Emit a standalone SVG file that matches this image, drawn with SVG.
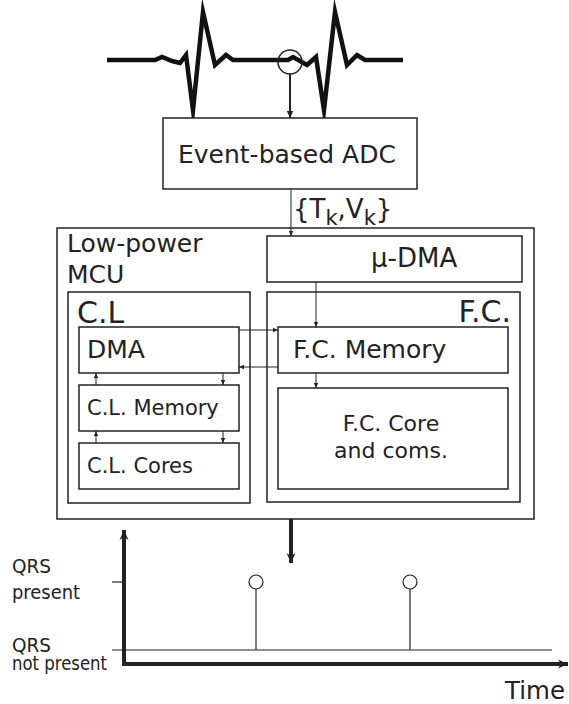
<svg xmlns="http://www.w3.org/2000/svg" width="569" height="704" viewBox="0 0 569 704">
<style>
.box{fill:#fff;stroke:#222;stroke-width:1.5}
.t{font-family:"DejaVu Sans",sans-serif;fill:#222}
.l{font-family:"DejaVu Sans",sans-serif;fill:#222}
.c{fill:none;stroke:#222;stroke-width:1}
</style>
<defs>
<marker id="a" markerUnits="userSpaceOnUse" markerWidth="6" markerHeight="6" refX="5" refY="3" orient="auto"><path d="M0,0.8 L5,3 L0,5.2 Z" fill="#222"/></marker>
<marker id="ab" markerUnits="userSpaceOnUse" markerWidth="12" markerHeight="12" refX="10" refY="6" orient="auto"><path d="M0,1.5 L10,6 L0,10.5 L3,6 Z" fill="#222"/></marker>
<marker id="am" markerUnits="userSpaceOnUse" markerWidth="8" markerHeight="8" refX="7" refY="4" orient="auto"><path d="M0,0.8 L7,4 L0,7.2 Z" fill="#222"/></marker>
</defs>
<rect width="569" height="704" fill="#fff"/>
<g id="ecg">
<polyline points="107,60 155,60 162,57 172,61 180,63 186,55 193,110 203,12 215,65 226,55 233,60 288,60 293,57 300,61 307,65 316,57 324,110 335,12 347,65 357,55 365,60 403,60" fill="none" stroke="#111" stroke-width="4.5" stroke-linejoin="miter" stroke-miterlimit="10"/>
<circle cx="290" cy="62" r="12" fill="none" stroke="#222" stroke-width="1.5"/>
</g>
<g id="adc"><rect class="box" x="163" y="118" width="254" height="71"/><text class="t" x="178" y="163" font-size="25">Event-based ADC</text></g>
<g id="mcu"><rect class="box" x="57" y="228" width="477" height="291"/><text class="t" x="67" y="252" font-size="25">Low-power</text><text class="t" x="67" y="283" font-size="25">MCU</text></g>
<g id="udma"><rect class="box" x="267" y="236" width="255" height="46"/><text class="t" x="371" y="267" font-size="26">μ-DMA</text></g>
<g id="cl"><rect class="box" x="68" y="292" width="182" height="211"/><text class="t" x="77" y="323" font-size="30">C.L</text></g>
<g id="fc"><rect class="box" x="267" y="292" width="253" height="210"/><text class="t" x="511" y="322" font-size="30" text-anchor="end">F.C.</text></g>
<g id="dma"><rect class="box" x="79" y="327" width="160" height="46"/><text class="t" x="87" y="358" font-size="25">DMA</text></g>
<g id="fcmem"><rect class="box" x="278" y="327" width="230" height="46"/><text class="t" x="293" y="358" font-size="25">F.C. Memory</text></g>
<g id="fccore"><rect class="box" x="278" y="388" width="230" height="101"/><text class="t" x="391" y="431" font-size="22" text-anchor="middle">F.C. Core</text><text class="t" x="391" y="458" font-size="22" text-anchor="middle">and coms.</text></g>
<g id="clmem"><rect class="box" x="79" y="385" width="160" height="46"/><text class="t" x="87" y="415" font-size="21">C.L. Memory</text></g>
<g id="clcores"><rect class="box" x="79" y="443" width="160" height="46"/><text class="t" x="87" y="473" font-size="21">C.L. Cores</text></g>
<g id="label-tv"><text class="t" x="293" y="218" font-size="26">{T<tspan font-size="21" dy="7">k</tspan><tspan dy="-7">,V</tspan><tspan font-size="21" dy="7">k</tspan><tspan dy="-7">}</tspan></text></g>
<g id="connectors">
<line x1="290" y1="74" x2="290" y2="118" stroke="#222" stroke-width="2" marker-end="url(#am)"/>
<line x1="291" y1="189" x2="291" y2="236" class="c" marker-end="url(#a)"/>
<line x1="316" y1="282" x2="316" y2="327" class="c" marker-end="url(#a)"/>
<line x1="316" y1="373" x2="316" y2="388" class="c" marker-end="url(#a)"/>
<line x1="239" y1="330" x2="278" y2="330" class="c" marker-end="url(#a)"/>
<line x1="278" y1="367" x2="239" y2="367" class="c" marker-end="url(#a)"/>
<line x1="96" y1="385" x2="96" y2="373" class="c" marker-end="url(#a)"/>
<line x1="223" y1="373" x2="223" y2="385" class="c" marker-end="url(#a)"/>
<line x1="96" y1="443" x2="96" y2="431" class="c" marker-end="url(#a)"/>
<line x1="223" y1="431" x2="223" y2="443" class="c" marker-end="url(#a)"/>
<line x1="291" y1="519" x2="291" y2="563" stroke="#222" stroke-width="4" marker-end="url(#ab)"/>
</g>
<g id="plot">
<line x1="124" y1="666" x2="124" y2="530" stroke="#222" stroke-width="4" marker-end="url(#ab)"/>
<line x1="122" y1="664" x2="568" y2="664" stroke="#222" stroke-width="4" marker-end="url(#ab)"/>
<line x1="112" y1="582" x2="124" y2="582" stroke="#222" stroke-width="1.2"/>
<line x1="112" y1="650" x2="552" y2="650" stroke="#222" stroke-width="1.2"/>
<line x1="256" y1="650" x2="256" y2="589" stroke="#222" stroke-width="1.2"/>
<circle cx="256" cy="582" r="7" fill="none" stroke="#222" stroke-width="1.2"/>
<line x1="410" y1="650" x2="410" y2="589" stroke="#222" stroke-width="1.2"/>
<circle cx="410" cy="582" r="7" fill="none" stroke="#222" stroke-width="1.2"/>
<text class="l" x="12" y="573" font-size="20" textLength="39" lengthAdjust="spacingAndGlyphs">QRS</text>
<text class="l" x="12" y="599" font-size="20" textLength="68" lengthAdjust="spacingAndGlyphs">present</text>
<text class="l" x="12" y="652" font-size="20" textLength="39" lengthAdjust="spacingAndGlyphs">QRS</text>
<text class="l" x="12" y="670" font-size="20" textLength="95" lengthAdjust="spacingAndGlyphs">not present</text>
<text class="l" x="505" y="699" font-size="25" textLength="60" lengthAdjust="spacingAndGlyphs">Time</text>
</g>
</svg>
